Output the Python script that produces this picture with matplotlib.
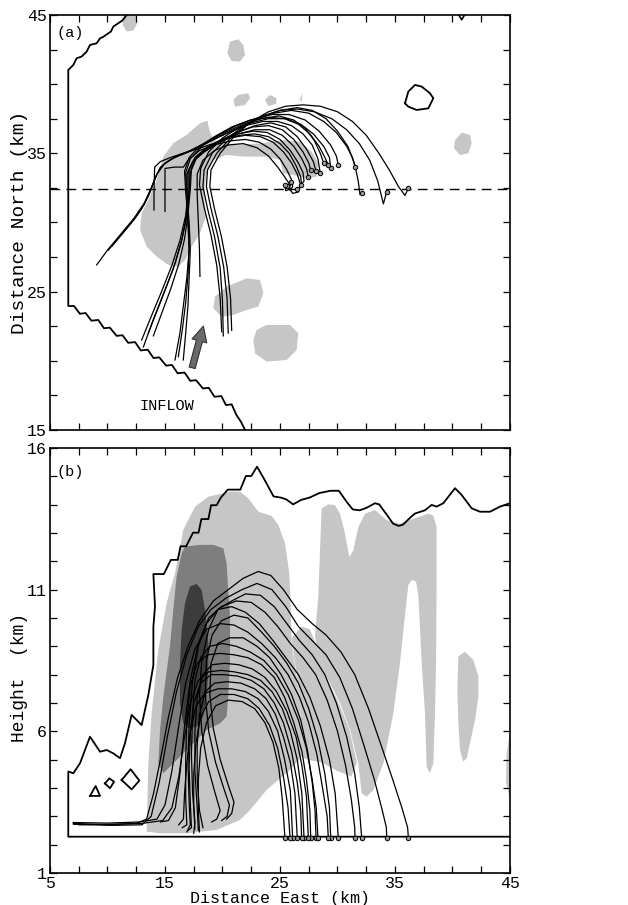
import numpy as np
import matplotlib.pyplot as plt
from matplotlib.ticker import MultipleLocator

plt.rcParams['font.family'] = ['Liberation Mono', 'DejaVu Sans Mono']

# ---------------- panel (a): plan view (km) ----------------
a_boundary = [(11.67, 45.0), (11.3, 44.6), (10.94, 44.4), (10.51, 44.16), (10.3, 43.8),
              (10.07, 43.67), (9.6, 43.4), (9.35, 43.31), (9.06, 42.95), (8.48, 42.83),
              (8.19, 42.35), (7.75, 41.99), (7.32, 41.87), (7.03, 41.39), (6.59, 41.02),
              (6.59, 23.96), (7.09, 23.96), (7.6, 23.4), (8.1, 23.45), (8.6, 22.9),
              (9.2, 22.95), (9.7, 22.35), (10.2, 22.4), (10.8, 21.8), (11.3, 21.85),
              (11.8, 21.3), (12.4, 21.35), (12.9, 20.75), (13.5, 20.8), (14.0, 20.2),
              (14.5, 20.25), (15.1, 19.65), (15.6, 19.7), (16.1, 19.1), (16.7, 19.15),
              (17.2, 18.55), (17.7, 18.6), (18.3, 18.0), (18.8, 18.05), (19.3, 17.4),
              (19.9, 17.45), (20.3, 16.8), (20.8, 16.85), (21.2, 16.1), (21.6, 15.6),
              (21.96, 15.0)]
a_cell = [(35.87, 38.61), (36.16, 39.46), (36.74, 39.94), (37.32, 39.82), (38.04, 39.34),
          (38.33, 38.98), (37.9, 38.25), (36.88, 38.13), (36.16, 38.37), (35.87, 38.61)]
a_corner = [(40.55, 45.0), (40.8, 44.65), (41.05, 45.0)]
a_dashed_y = 32.4

a_blobs = [
    [(11.38, 45.0), (12.54, 45.0), (12.59, 44.4), (12.25, 43.87), (11.67, 43.8), (11.32, 44.28)],
    [(20.65, 43.07), (21.38, 43.24), (21.81, 42.83), (21.96, 42.11), (21.52, 41.63),
     (20.8, 41.67), (20.42, 42.23)],
    [(20.94, 38.86), (21.38, 39.22), (22.25, 39.34), (22.39, 38.98), (21.96, 38.49), (21.09, 38.37)],
    [(23.7, 38.86), (24.13, 39.22), (24.71, 38.98), (24.65, 38.57), (23.99, 38.42)],
    [(26.7, 38.86), (26.97, 39.39), (26.88, 38.74)],
    [(12.83, 29.46), (12.97, 30.66), (13.55, 31.63), (14.28, 33.07), (14.86, 34.76),
     (15.72, 35.72), (16.88, 36.33), (18.04, 37.17), (18.68, 37.36), (18.86, 36.69),
     (19.2, 35.96), (20.94, 35.6), (23.26, 35.72), (25.29, 35.96), (26.74, 35.84),
     (27.75, 35.12), (28.33, 34.28), (28.19, 33.31), (27.32, 33.19), (26.16, 33.43),
     (25.29, 33.55), (25.0, 34.52), (23.84, 34.76), (21.81, 34.76), (20.36, 34.88),
     (19.2, 34.52), (18.62, 33.55), (18.39, 32.11), (18.57, 30.42), (18.04, 29.22),
     (17.32, 28.25), (16.74, 27.29), (16.16, 26.81), (15.29, 26.93), (14.28, 27.53),
     (13.41, 28.25)],
    [(40.22, 35.96), (40.8, 36.49), (41.52, 36.33), (41.67, 35.72), (41.38, 35.0),
     (40.65, 34.88), (40.13, 35.36)],
    [(19.35, 24.64), (20.36, 25.36), (22.1, 25.96), (23.26, 25.84), (23.55, 24.88),
     (23.12, 23.92), (22.1, 23.67), (20.94, 23.31), (19.93, 23.19), (19.2, 23.8)],
    [(22.97, 22.23), (23.84, 22.59), (25.87, 22.59), (26.59, 21.99), (26.45, 20.78),
     (25.58, 20.06), (23.84, 19.94), (22.83, 20.54), (22.68, 21.51)],
]

a_traj = [
    [(20.8, 22.2), (20.7, 24.5), (20.4, 26.8), (19.9, 29.0), (19.3, 31.0), (18.9, 32.6),
     (19.0, 33.8), (19.8, 35.0), (21.0, 36.2), (22.5, 37.3), (24.0, 38.0), (25.5, 38.4),
     (27.0, 38.5), (28.5, 38.4), (30.0, 38.0), (31.3, 37.3), (32.5, 36.3), (33.6, 35.0),
     (34.5, 33.8), (35.3, 32.6), (35.87, 31.95), (36.16, 32.47)],
    [(20.5, 22.0), (20.4, 24.5), (20.1, 26.8), (19.6, 29.0), (19.0, 31.0), (18.6, 32.6),
     (18.7, 33.8), (19.5, 35.0), (20.7, 36.1), (22.0, 37.0), (23.5, 37.7), (25.0, 38.1),
     (26.5, 38.2), (28.0, 38.0), (29.5, 37.5), (30.8, 36.7), (31.9, 35.7), (32.8, 34.5),
     (33.5, 33.0), (33.99, 31.34), (34.28, 32.23)],
    [(20.07, 21.8), (20.0, 24.3), (19.8, 26.7), (19.3, 29.0), (18.7, 31.0), (18.3, 32.6),
     (18.4, 33.8), (19.1, 35.0), (20.3, 36.0), (21.7, 36.9), (23.3, 37.6), (25.0, 38.1),
     (26.5, 38.3), (27.8, 38.1), (29.0, 37.5), (30.0, 36.6), (30.9, 35.5), (31.5, 34.2),
     (31.8, 33.0), (31.96, 32.0), (32.1, 32.16)],
    [(19.93, 22.1), (19.8, 24.5), (19.5, 26.9), (19.0, 29.1), (18.4, 31.1), (18.0, 32.7),
     (18.1, 33.9), (18.8, 35.1), (20.0, 36.1), (21.5, 36.9), (23.0, 37.5), (24.5, 37.9),
     (26.0, 38.1), (27.5, 37.9), (28.8, 37.3), (29.9, 36.5), (30.8, 35.5), (31.3, 34.7),
     (31.52, 34.04)],
    [(16.59, 20.06), (16.8, 22.0), (17.0, 24.0), (17.1, 26.0), (17.2, 28.0), (17.1, 30.0),
     (16.9, 32.0), (16.8, 33.6), (17.2, 34.6), (18.2, 35.5), (19.6, 36.3), (21.2, 37.0),
     (22.8, 37.5), (24.3, 37.8), (25.8, 37.8), (27.2, 37.4), (28.4, 36.6), (29.4, 35.6),
     (29.9, 34.8), (30.07, 34.16)],
    [(16.16, 20.3), (16.5, 22.2), (16.8, 24.2), (17.0, 26.2), (17.1, 28.2), (17.0, 30.2),
     (16.8, 32.2), (16.7, 33.7), (17.1, 34.7), (18.0, 35.5), (19.3, 36.2), (20.8, 36.9),
     (22.4, 37.4), (24.0, 37.6), (25.5, 37.5), (26.8, 37.1), (27.9, 36.4), (28.8, 35.5),
     (29.3, 34.7), (29.41, 33.9)],
    [(9.06, 26.93), (10.0, 28.0), (11.2, 29.2), (12.3, 30.3), (13.2, 31.4), (13.8, 32.5),
     (14.3, 33.5), (14.9, 34.2), (15.8, 34.7), (16.8, 35.0), (18.0, 35.5), (19.5, 36.1),
     (21.0, 36.7), (22.5, 37.2), (24.0, 37.5), (25.4, 37.5), (26.6, 37.1), (27.6, 36.4),
     (28.4, 35.5), (28.9, 34.7), (29.2, 34.16)],
    [(10.07, 28.0), (11.0, 28.9), (12.0, 29.9), (12.9, 30.9), (13.6, 32.0), (14.1, 33.1),
     (14.6, 34.0), (15.4, 34.5), (16.4, 34.9), (17.6, 35.3), (19.0, 35.9), (20.5, 36.5),
     (22.0, 37.0), (23.5, 37.3), (24.8, 37.3), (26.0, 37.0), (27.0, 36.4), (27.8, 35.6),
     (28.3, 34.6), (28.5, 33.55)],
    [(15.87, 20.06), (16.3, 22.0), (16.6, 24.0), (16.9, 26.0), (17.1, 28.0), (17.0, 30.0),
     (16.9, 32.0), (16.9, 33.5), (17.4, 34.4), (18.4, 35.1), (19.8, 35.8), (21.3, 36.5),
     (22.8, 37.0), (24.2, 37.2), (25.5, 36.9), (26.5, 36.2), (27.3, 35.3), (27.9, 34.4),
     (28.13, 33.7)],
    [(12.97, 21.5), (13.8, 23.2), (14.7, 25.0), (15.6, 26.9), (16.3, 28.7), (16.8, 30.5),
     (17.0, 32.2), (17.0, 33.6), (17.5, 34.5), (18.5, 35.2), (19.8, 35.9), (21.2, 36.5),
     (22.6, 36.9), (24.0, 37.0), (25.2, 36.7), (26.2, 36.0), (27.0, 35.1), (27.5, 34.3),
     (27.67, 33.8)],
    [(13.12, 21.0), (13.9, 22.8), (14.8, 24.7), (15.7, 26.6), (16.4, 28.5), (16.9, 30.4),
     (17.1, 32.2), (17.2, 33.6), (17.7, 34.6), (18.7, 35.3), (20.0, 35.9), (21.4, 36.4),
     (22.8, 36.7), (24.1, 36.7), (25.2, 36.3), (26.2, 35.5), (26.9, 34.6), (27.3, 33.9),
     (27.46, 33.3)],
    [(13.55, 22.0), (14.3, 23.6), (15.1, 25.3), (15.9, 27.1), (16.5, 28.9), (16.9, 30.7),
     (17.1, 32.4), (17.1, 33.8), (17.6, 34.7), (18.6, 35.4), (19.9, 36.0), (21.3, 36.4),
     (22.7, 36.6), (23.9, 36.5), (25.0, 36.0), (25.9, 35.2), (26.6, 34.3), (27.0, 33.6),
     (27.09, 33.0), (26.8, 32.7)],
    [(13.99, 21.8), (14.7, 23.4), (15.5, 25.2), (16.2, 27.0), (16.7, 28.8), (17.0, 30.6),
     (17.2, 32.4), (17.3, 33.9), (17.8, 34.8), (18.8, 35.5), (20.1, 36.0), (21.5, 36.3),
     (22.8, 36.4), (24.0, 36.2), (25.0, 35.7), (25.8, 35.0), (26.4, 34.1), (26.8, 33.3),
     (26.88, 32.7), (26.5, 32.4)],
    [(14.04, 30.9), (14.05, 32.5), (14.1, 34.0), (14.6, 34.4), (15.5, 34.7), (16.6, 35.0),
     (17.8, 35.3), (19.2, 35.7), (20.6, 36.1), (22.0, 36.3), (23.3, 36.2), (24.4, 35.8),
     (25.3, 35.1), (26.0, 34.3), (26.5, 33.5), (26.8, 32.7), (26.6, 32.2), (26.1, 32.1),
     (25.8, 32.5), (26.0, 32.9)],
    [(15.0, 30.8), (15.0, 32.5), (15.0, 33.9), (15.8, 34.0), (16.6, 34.0), (17.0, 34.5),
     (18.0, 35.2), (19.3, 35.6), (20.7, 35.9), (22.0, 36.0), (23.2, 35.8), (24.2, 35.3),
     (25.0, 34.6), (25.6, 33.8), (26.0, 33.1), (26.1, 32.6), (25.9, 32.3), (25.6, 32.6)],
    [(18.04, 26.1), (18.0, 28.0), (17.9, 30.0), (17.8, 32.0), (17.8, 33.5), (18.3, 34.5),
     (19.3, 35.2), (20.5, 35.6), (21.8, 35.7), (23.0, 35.4), (24.0, 34.8), (24.8, 34.0),
     (25.4, 33.3), (25.8, 32.8), (25.87, 32.4), (25.5, 32.3), (25.4, 32.7)],
    [(10.4, 28.3), (11.4, 29.3), (12.4, 30.3), (13.2, 31.3), (13.8, 32.4), (14.3, 33.5),
     (15.0, 34.3), (16.0, 34.8), (17.2, 35.2), (18.6, 35.8), (20.2, 36.5), (21.8, 37.1),
     (23.4, 37.5), (24.9, 37.7), (26.2, 37.4), (27.2, 36.8), (28.0, 35.9), (28.5, 35.0),
     (28.8, 34.3)],
]

a_arrow_tail = (17.3, 19.3)
a_arrow_head = (18.4, 22.7)

# ---------------- panel (b): vertical section (km) ----------------
b_outline = [(45.0, 2.28), (6.59, 2.28), (6.59, 4.58), (7.03, 4.52), (7.61, 4.87),
             (8.48, 5.81), (9.35, 5.28), (9.93, 5.34), (10.51, 5.22), (11.09, 5.05),
             (11.52, 5.58), (12.10, 6.58), (12.97, 6.22), (13.55, 7.28), (13.99, 8.34),
             (13.99, 9.69), (14.13, 10.40), (13.99, 11.55), (14.9, 11.55), (15.51, 12.05),
             (16.11, 12.05), (16.35, 12.53), (16.84, 12.53), (17.44, 13.01), (17.92, 13.01),
             (18.16, 13.49), (18.77, 13.49), (19.01, 13.98), (19.49, 13.98), (19.86, 14.25),
             (20.46, 14.53), (21.55, 14.53), (22.03, 15.01), (22.51, 15.01), (23.0, 15.34),
             (23.6, 14.92), (24.44, 14.29), (25.05, 14.25), (25.53, 14.19), (26.14, 14.01),
             (26.86, 14.17), (27.58, 14.25), (28.43, 14.41), (29.4, 14.49), (30.12, 14.49),
             (30.85, 14.07), (31.33, 13.83), (31.93, 13.80), (32.54, 13.89), (33.26, 14.05),
             (33.62, 14.01), (34.35, 13.61), (34.83, 13.33), (35.31, 13.25), (35.68, 13.29),
             (36.40, 13.57), (36.76, 13.69), (37.6, 13.8), (38.19, 13.99), (38.62, 13.93),
             (39.2, 14.05), (40.22, 14.58), (40.8, 14.34), (41.67, 13.87), (42.39, 13.75),
             (43.26, 13.75), (44.13, 13.93), (45.0, 14.05)]
b_small_cells = [
    [(8.48, 3.72), (9.35, 3.72), (8.97, 4.07), (8.48, 3.72)],
    [(9.78, 4.16), (10.16, 4.34), (10.57, 4.22), (10.22, 3.99), (9.78, 4.16)],
    [(11.23, 4.28), (12.01, 4.66), (12.77, 4.26), (12.1, 3.95), (11.23, 4.28)],
]

b_light = [
    [(13.41, 2.46), (13.55, 4.87), (13.84, 6.64), (14.42, 8.87), (15.14, 10.52),
     (15.87, 11.58), (16.59, 13.11), (17.61, 13.93), (18.77, 14.28), (20.65, 14.46),
     (21.52, 14.46), (22.25, 14.22), (23.12, 13.75), (24.28, 13.6), (24.86, 13.28),
     (25.43, 12.64), (25.81, 11.58), (25.93, 10.52), (26.01, 9.11), (26.74, 7.11),
     (26.88, 5.11), (25.87, 4.64), (23.84, 3.93), (22.39, 3.22), (21.52, 2.87),
     (19.49, 2.52), (16.88, 2.4), (14.57, 2.4)],
    [(26.0, 9.3), (26.9, 9.7), (27.6, 9.6), (28.2, 9.0), (29.0, 7.9), (30.0, 7.1),
     (31.0, 6.1), (31.7, 4.9), (31.2, 4.4), (30.0, 4.6), (28.6, 4.9), (27.4, 5.0),
     (26.88, 5.11), (26.74, 7.11)],
    [(28.62, 13.86), (29.2, 14.01), (29.78, 13.98), (30.22, 13.68), (30.65, 12.98),
     (31.03, 12.15), (31.38, 12.39), (31.81, 13.21), (32.39, 13.68), (33.26, 13.81),
     (34.28, 13.45), (35.43, 13.33), (36.59, 13.5), (37.9, 13.68), (38.33, 13.62),
     (38.62, 13.21), (38.62, 11.21), (38.57, 8.4), (38.48, 6.64), (38.33, 4.87),
     (38.04, 4.52), (37.75, 4.75), (37.61, 6.64), (37.32, 8.4), (37.03, 10.81),
     (36.83, 11.28), (36.45, 11.34), (36.16, 11.16), (35.87, 10.1), (35.43, 8.4),
     (34.86, 6.64), (33.99, 4.87), (33.12, 3.93), (32.54, 3.69), (32.1, 3.81),
     (31.81, 4.87), (31.09, 6.05), (30.22, 6.99), (29.35, 7.69), (28.48, 8.4),
     (28.04, 9.34), (28.33, 10.75), (28.48, 12.39)],
    [(40.51, 8.64), (41.09, 8.81), (41.81, 8.52), (42.25, 7.93), (42.25, 7.22),
     (41.96, 6.4), (41.52, 5.58), (41.23, 5.05), (40.94, 4.93), (40.65, 5.34),
     (40.51, 6.28), (40.42, 7.46)],
    [(45.0, 6.0), (44.7, 5.2), (44.65, 4.2), (45.0, 3.6)],
]
b_medium = [(16.74, 12.52), (18.04, 12.58), (19.2, 12.58), (20.07, 12.46), (20.36, 11.93),
            (20.5, 10.99), (20.65, 10.05), (20.65, 8.4), (20.5, 7.22), (20.36, 6.52),
            (19.78, 6.28), (18.62, 6.05), (16.88, 5.34), (15.72, 4.87), (14.86, 4.52),
            (14.42, 4.87), (14.57, 6.05), (14.86, 7.22), (15.43, 8.99), (15.72, 10.28),
            (16.01, 11.46), (16.45, 12.28)]
b_dark = [(17.17, 11.11), (17.75, 11.2), (18.19, 10.99), (18.48, 10.28), (18.77, 9.11),
          (18.77, 8.16), (18.62, 7.22), (18.33, 6.52), (17.75, 6.16), (17.03, 6.11),
          (16.59, 6.28), (16.3, 6.99), (16.3, 8.4), (16.45, 9.58), (16.74, 10.52)]

b_traj = [
    [(7.03, 2.75), (10.0, 2.7), (12.5, 2.75), (13.4, 2.9), (14.0, 3.8), (14.6, 5.0),
     (15.3, 6.5), (16.1, 7.9), (17.0, 9.0), (18.0, 9.9), (19.2, 10.6), (20.5, 11.0),
     (21.8, 11.4), (23.1, 11.64), (24.2, 11.5), (25.3, 11.0), (26.5, 10.3), (27.8, 9.8),
     (29.0, 9.4), (30.3, 8.8), (31.5, 8.0), (32.7, 6.8), (33.8, 5.5), (34.8, 4.3),
     (35.6, 3.3), (36.1, 2.6), (36.16, 2.25)],
    [(7.03, 2.72), (10.5, 2.68), (13.0, 2.7), (13.8, 3.0), (14.5, 4.2), (15.2, 5.8),
     (16.0, 7.4), (16.9, 8.7), (17.9, 9.7), (19.0, 10.3), (20.3, 10.7), (21.7, 11.0),
     (23.0, 11.22), (24.3, 11.0), (25.5, 10.4), (26.6, 9.7), (27.8, 9.2), (29.0, 8.7),
     (30.2, 7.9), (31.3, 6.8), (32.3, 5.5), (33.2, 4.3), (33.9, 3.2), (34.25, 2.6),
     (34.28, 2.25)],
    [(19.06, 2.8), (19.5, 2.9), (19.8, 3.2), (19.3, 3.9), (18.7, 4.8), (18.2, 6.0),
     (18.0, 7.3), (18.2, 8.5), (18.8, 9.6), (19.6, 10.3), (20.8, 10.6), (22.0, 10.85),
     (23.3, 10.8), (24.5, 10.4), (25.6, 9.8), (26.7, 9.2), (27.8, 8.7), (28.9, 8.0),
     (29.9, 7.0), (30.8, 5.8), (31.5, 4.5), (31.9, 3.3), (32.1, 2.25)],
    [(14.6, 2.8), (15.3, 2.85), (15.9, 3.3), (16.3, 4.5), (16.7, 6.2), (17.2, 7.8),
     (17.9, 9.1), (18.8, 10.0), (19.9, 10.4), (21.2, 10.6), (22.5, 10.55), (23.7, 10.2),
     (24.8, 9.7), (25.9, 9.1), (27.0, 8.6), (28.1, 8.0), (29.1, 7.1), (30.0, 6.0),
     (30.7, 4.8), (31.2, 3.6), (31.5, 2.6), (31.52, 2.25)],
    [(16.9, 2.45), (17.2, 2.7), (17.1, 3.5), (17.0, 4.8), (17.1, 6.3), (17.4, 7.8),
     (17.9, 9.0), (18.6, 9.8), (19.6, 10.3), (20.8, 10.4), (22.0, 10.2), (23.2, 9.8),
     (24.4, 9.2), (25.5, 8.6), (26.6, 8.0), (27.6, 7.2), (28.5, 6.2), (29.3, 5.0),
     (29.8, 3.8), (30.07, 2.25)],
    [(19.93, 2.85), (20.4, 3.0), (20.6, 3.4), (20.1, 4.0), (19.4, 4.9), (18.8, 6.0),
     (18.5, 7.3), (18.6, 8.5), (19.1, 9.4), (19.9, 9.9), (21.0, 10.1), (22.2, 10.0),
     (23.4, 9.5), (24.5, 9.0), (25.6, 8.4), (26.6, 7.7), (27.5, 6.8), (28.3, 5.7),
     (28.9, 4.5), (29.3, 3.3), (29.41, 2.25)],
    [(7.03, 2.78), (10.0, 2.76), (12.8, 2.8), (14.3, 2.9), (15.0, 3.4), (15.6, 4.6),
     (16.2, 6.2), (16.8, 7.7), (17.6, 8.9), (18.6, 9.6), (19.8, 9.8), (21.0, 9.75),
     (22.2, 9.5), (23.4, 9.1), (24.6, 8.6), (25.7, 8.0), (26.7, 7.2), (27.5, 6.3),
     (28.2, 5.2), (28.7, 4.0), (29.1, 3.0), (29.2, 2.25)],
    [(20.36, 2.9), (20.8, 3.1), (21.0, 3.5), (20.5, 4.1), (19.8, 5.0), (19.2, 6.1),
     (18.9, 7.3), (19.0, 8.4), (19.6, 9.1), (20.6, 9.3), (21.8, 9.3), (23.0, 9.0),
     (24.1, 8.6), (25.1, 8.0), (26.0, 7.3), (26.8, 6.4), (27.4, 5.3), (27.8, 4.2),
     (28.05, 3.2), (28.13, 2.25)],
    [(17.5, 2.4), (17.6, 2.8), (17.4, 3.8), (17.3, 5.2), (17.4, 6.6), (17.6, 7.8),
     (18.1, 8.6), (18.9, 9.0), (20.0, 9.1), (21.2, 9.0), (22.4, 8.8), (23.6, 8.5),
     (24.7, 8.0), (25.7, 7.3), (26.6, 6.4), (27.3, 5.4), (27.8, 4.3), (28.15, 3.3),
     (28.3, 2.25)],
    [(16.5, 2.6), (16.9, 2.7), (16.8, 3.6), (16.8, 5.0), (16.9, 6.4), (17.2, 7.6),
     (17.8, 8.4), (18.7, 8.7), (19.8, 8.75), (21.0, 8.7), (22.2, 8.6), (23.4, 8.35),
     (24.5, 7.9), (25.4, 7.2), (26.2, 6.3), (26.9, 5.3), (27.3, 4.3), (27.6, 3.2),
     (27.67, 2.25)],
    [(17.9, 2.5), (17.8, 3.3), (17.6, 4.6), (17.6, 6.0), (17.8, 7.2), (18.3, 8.0),
     (19.1, 8.35), (20.2, 8.4), (21.4, 8.35), (22.6, 8.2), (23.7, 7.9), (24.7, 7.4),
     (25.6, 6.7), (26.4, 5.8), (26.9, 4.8), (27.3, 3.7), (27.46, 2.25)],
    [(7.5, 2.7), (10.5, 2.72), (13.0, 2.75), (14.8, 2.85), (15.6, 3.3), (16.2, 4.4),
     (16.7, 5.8), (17.2, 7.0), (17.9, 7.8), (18.8, 8.1), (19.9, 8.15), (21.0, 8.1),
     (22.2, 8.0), (23.3, 7.8), (24.3, 7.4), (25.2, 6.8), (25.9, 6.0), (26.5, 5.0),
     (26.9, 3.8), (27.09, 2.25)],
    [(17.0, 2.5), (17.3, 2.6), (17.2, 3.5), (17.1, 4.7), (17.2, 5.9), (17.5, 7.0),
     (18.1, 7.7), (19.0, 8.0), (20.1, 8.0), (21.3, 7.95), (22.5, 7.8), (23.6, 7.5),
     (24.5, 7.0), (25.3, 6.3), (26.0, 5.3), (26.5, 4.2), (26.8, 3.2), (26.88, 2.25)],
    [(18.3, 2.6), (18.0, 3.2), (17.8, 4.3), (17.8, 5.5), (18.0, 6.6), (18.5, 7.4),
     (19.3, 7.7), (20.4, 7.75), (21.6, 7.7), (22.8, 7.5), (23.8, 7.15), (24.6, 6.6),
     (25.3, 5.8), (25.9, 4.9), (26.3, 3.8), (26.5, 2.25)],
    [(16.2, 2.7), (16.6, 2.9), (16.7, 3.8), (16.9, 4.9), (17.2, 6.0), (17.7, 6.9),
     (18.5, 7.35), (19.6, 7.5), (20.8, 7.5), (22.0, 7.4), (23.1, 7.15), (24.0, 6.7),
     (24.8, 6.0), (25.4, 5.0), (25.9, 3.9), (26.1, 2.25)],
    [(17.6, 2.55), (17.5, 3.4), (17.5, 4.5), (17.7, 5.6), (18.1, 6.5), (18.8, 7.05),
     (19.8, 7.3), (21.0, 7.3), (22.2, 7.15), (23.2, 6.8), (24.1, 6.2), (24.8, 5.4),
     (25.3, 4.4), (25.7, 3.3), (25.87, 2.25)],
    [(18.0, 2.45), (17.9, 3.2), (17.9, 4.3), (18.1, 5.4), (18.6, 6.3), (19.4, 6.9),
     (20.5, 7.1), (21.7, 7.05), (22.8, 6.8), (23.7, 6.3), (24.4, 5.6), (24.9, 4.7),
     (25.2, 3.6), (25.43, 2.25)],
]

LIGHT, MEDIUM, DARK = '#c6c6c6', '#7e7e7e', '#3c3c3c'

fig = plt.figure(figsize=(6.28, 9.05), dpi=100)
ax_a = fig.add_axes([0.0796, 0.5249, 0.7325, 0.4586])
ax_b = fig.add_axes([0.0796, 0.0354, 0.7325, 0.4696])


def xy(pts):
    arr = np.array(pts)
    return arr[:, 0], arr[:, 1]


# --- panel (a)
for blob in a_blobs:
    bx, by = xy(blob)
    ax_a.fill(bx, by, color=LIGHT, lw=0, zorder=1)
bx, by = xy(a_boundary)
ax_a.plot(bx, by, color='k', lw=1.3, zorder=2)
bx, by = xy(a_cell)
ax_a.plot(bx, by, color='k', lw=1.3, zorder=2)
bx, by = xy(a_corner)
ax_a.plot(bx, by, color='k', lw=1.2, zorder=2)
ax_a.axhline(a_dashed_y, color='k', lw=1.0, ls=(0, (7, 4.5)), zorder=2)
for tr in a_traj:
    tx, ty = xy(tr)
    ax_a.plot(tx, ty, color='k', lw=0.9, zorder=3)
    ax_a.plot(tx[-1], ty[-1], 'o', ms=3.2, mfc='#999999', mec='k', mew=0.7, zorder=4)
ax_a.annotate('', xy=a_arrow_head, xytext=a_arrow_tail,
              arrowprops=dict(arrowstyle='simple,head_length=1.1,head_width=1.1,tail_width=0.45',
                              fc='#6a6a6a', ec='#333333', lw=0.8), zorder=5)
ax_a.text(5.6, 43.7, '(a)', fontsize=11, ha='left', va='center')
ax_a.text(15.2, 16.75, 'INFLOW', fontsize=11, ha='center', va='center')
ax_a.set_xlim(5, 45)
ax_a.set_ylim(15, 45)
ax_a.set_xticks([5, 15, 25, 35, 45])
ax_a.set_yticks([15, 25, 35, 45])
ax_a.xaxis.set_minor_locator(MultipleLocator(2.5))
ax_a.yaxis.set_minor_locator(MultipleLocator(2.5))
ax_a.set_ylabel('Distance North (km)', fontsize=14)
ax_a.yaxis.set_label_coords(-0.048, 0.5)

# --- panel (b)
for blob in b_light:
    bx, by = xy(blob)
    ax_b.fill(bx, by, color=LIGHT, lw=0, zorder=1)
bx, by = xy(b_medium)
ax_b.fill(bx, by, color=MEDIUM, lw=0, zorder=1)
bx, by = xy(b_dark)
ax_b.fill(bx, by, color=DARK, lw=0, zorder=1)
bx, by = xy(b_outline)
ax_b.plot(bx, by, color='k', lw=1.3, zorder=2)
for cell in b_small_cells:
    cx, cy = xy(cell)
    ax_b.plot(cx, cy, color='k', lw=1.3, zorder=2)
for tr in b_traj:
    tx, tz = xy(tr)
    ax_b.plot(tx, tz, color='k', lw=0.9, zorder=3)
    ax_b.plot(tx[-1], tz[-1], 'o', ms=3.2, mfc='#999999', mec='k', mew=0.7, zorder=4)
ax_b.text(5.6, 15.15, '(b)', fontsize=11, ha='left', va='center')
ax_b.set_xlim(5, 45)
ax_b.set_ylim(1, 16)
ax_b.set_xticks([5, 15, 25, 35, 45])
ax_b.set_yticks([1, 6, 11, 16])
ax_b.xaxis.set_minor_locator(MultipleLocator(2.5))
ax_b.yaxis.set_minor_locator(MultipleLocator(1))
ax_b.set_ylabel('Height  (km)', fontsize=13)
ax_b.yaxis.set_label_coords(-0.048, 0.46)
ax_b.set_xlabel('Distance East (km)', fontsize=12, labelpad=0)

for ax in (ax_a, ax_b):
    ax.tick_params(which='both', direction='in', top=True, right=True,
                   length=5, width=0.9, labelsize=12, pad=2)
    for sp in ax.spines.values():
        sp.set_linewidth(1.2)
ax_a.tick_params(labelbottom=False)

fig.savefig('out.png', dpi=100)
